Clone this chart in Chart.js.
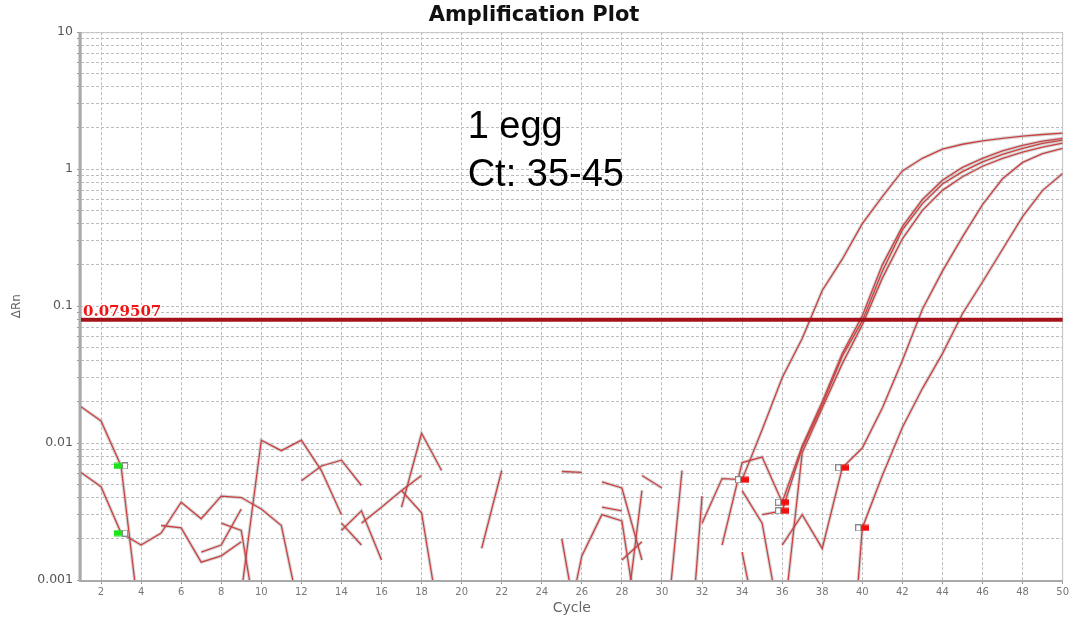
<!DOCTYPE html>
<html>
<head>
<meta charset="utf-8">
<script src="https://cdn.jsdelivr.net/npm/chart.js@4.4.1/dist/chart.umd.min.js"></script>
<style>
  html, body { margin: 0; padding: 0; background: #fff; }
</style>
</head>
<body>
<canvas id="amp" width="1071" height="620"></canvas>
<script>
// cycles on the x axis
const cycles = [1,2,3,4,5,6,7,8,9,10,11,12,13,14,15,16,17,18,19,20,21,22,23,24,25,
                26,27,28,29,30,31,32,33,34,35,36,37,38,39,40,41,42,43,44,45,46,47,48,49,50];

// delta Rn per well (null = negative value, not drawn on log axis)
const well1 = [0.0184,0.0145,0.0068,0.0004,null,null,null,null,0.0008,0.0105,
               0.0088,0.0105,0.0063,0.0030,null,null,0.0034,0.0118,0.0063,null,
               null,null,null,null,0.0062,0.0061,null,0.0014,0.0019,null,
               null,0.0026,0.0055,0.0054,0.0125,0.030,0.058,0.13,0.22,0.40,
               0.63,0.97,1.2,1.4,1.52,1.61,1.68,1.74,1.79,1.83];
const well2 = [0.0061,0.0048,0.0022,0.0018,0.0022,0.0037,0.0028,0.0041,0.0040,0.0033,
               0.0025,0.0005,null,0.0023,0.0032,0.0014,null,null,null,null,
               0.0017,0.0063,null,null,null,null,0.0052,0.0047,0.0014,null,
               null,null,0.0018,0.0072,0.0079,0.0037,0.0095,0.020,0.045,0.085,
               0.20,0.38,0.60,0.83,1.03,1.2,1.36,1.49,1.6,1.68];
const well3 = [null,null,null,null,0.0025,0.0024,0.00135,0.0015,0.0019,null,
               null,0.0053,0.0068,0.0075,0.0049,null,null,null,null,null,
               null,null,null,null,0.0020,0.0003,null,null,0.0058,0.0047,
               null,null,null,null,0.0030,0.0032,0.0092,0.019,0.043,0.078,
               0.18,0.36,0.56,0.78,0.96,1.13,1.28,1.42,1.54,1.63];
const well4 = [null,null,null,null,null,null,0.0016,0.0018,0.0033,null,
               null,null,null,0.0026,0.0018,null,null,null,null,null,
               null,null,null,null,0.0003,0.0015,0.0030,0.0027,0.0003,null,
               null,null,null,0.0045,0.0026,0.0004,0.0085,0.018,0.038,0.073,
               0.16,0.31,0.50,0.70,0.88,1.05,1.2,1.33,1.45,1.55];
const well5 = [null,null,null,null,null,null,null,0.0026,0.0023,0.0003,
               null,null,null,null,0.0026,0.0034,0.0045,0.0058,null,null,
               null,null,null,null,null,null,0.0034,0.0032,null,0.0002,
               0.0063,null,null,null,null,0.0018,0.0030,0.0017,0.0066,0.0092,
               0.018,0.040,0.095,0.18,0.32,0.55,0.85,1.12,1.3,1.42];
const well6 = [null,null,null,null,null,null,null,null,null,null,
               null,null,null,null,null,null,0.0045,0.0031,0.0004,null,
               null,null,null,null,null,null,null,0.0003,0.0045,null,
               0.00005,0.0041,null,0.0016,0.0003,null,null,null,0.00003,0.0024,
               0.0058,0.013,0.025,0.045,0.088,0.15,0.26,0.45,0.70,0.93];
const wells = [well1, well2, well3, well4, well5, well6];

// baseline start / end cycles per well (null = no marker shown)
const baselineStart = [3, 3, null, null, null, null];
const baselineEnd = [34, 36, 36, null, 39, 40];

const threshold = 0.079507;
const thresholdLabel = '0.079507';

const xTicks = [2,4,6,8,10,12,14,16,18,20,22,24,26,28,30,32,34,36,38,40,42,44,46,48,50];
const yTicks = [0.001,0.002,0.003,0.004,0.005,0.006,0.007,0.008,0.009,
                0.01,0.02,0.03,0.04,0.05,0.06,0.07,0.08,0.09,
                0.1,0.2,0.3,0.4,0.5,0.6,0.7,0.8,0.9,
                1,2,3,4,5,6,7,8,9,10];
const yLabels = ['0.001', '0.01', '0.1', '1', '10'];

const noteLines = ['1 egg', 'Ct: 35-45'];
const noteAt = { x: 20.3, y: 1.7 };

Chart.defaults.font.family = '"DejaVu Sans", Verdana, sans-serif';

function markerImage(fill, fillFirst) {
    const c = document.createElement('canvas');
    c.width = 14; c.height = 7;
    const g = c.getContext('2d');
    const drawWhite = (x0, w) => {
        g.fillStyle = '#fff'; g.fillRect(x0, 0.5, w, 6);
        g.strokeStyle = '#888'; g.lineWidth = 1; g.strokeRect(x0 + 0.5, 0.5, w - 1, 6);
    };
    g.fillStyle = fill;
    if (fillFirst) { g.fillRect(0, 0.5, 8, 6); drawWhite(8, 6); }
    else { drawWhite(0, 6); g.fillStyle = fill; g.fillRect(6, 0.5, 8, 6); }
    return c;
}
const greenMark = markerImage('#19e619', true);
const redMark = markerImage('#f01010', false);

const datasets = [];
wells.forEach((w, i) => {
    const pts = w.map((v, k) => ({ x: cycles[k], y: v }));
    datasets.push({ data: pts, borderColor: 'rgba(165,165,165,0.45)', borderWidth: 3.4, order: 2 });
    datasets.push({ data: pts, borderColor: '#cc4242', borderWidth: 1.3, order: 1 });
});
const startPts = [], endPts = [];
wells.forEach((w, i) => {
    if (baselineStart[i] !== null) startPts.push({ x: baselineStart[i], y: w[cycles.indexOf(baselineStart[i])] });
    if (baselineEnd[i] !== null) endPts.push({ x: baselineEnd[i], y: w[cycles.indexOf(baselineEnd[i])] });
});
datasets.push({ data: startPts, showLine: false, pointStyle: greenMark, pointRadius: 5, order: 0 });
datasets.push({ data: endPts, showLine: false, pointStyle: redMark, pointRadius: 5, order: 0 });

const overlay = {
    id: 'overlay',
    beforeDatasetsDraw(chart) {
        const { ctx, chartArea: a } = chart;
        ctx.save();
        ctx.strokeStyle = '#c6c6c6'; ctx.lineWidth = 1;
        ctx.strokeRect(a.left, a.top + 0.5, a.width, a.height);
        ctx.strokeStyle = '#a9a9a9'; ctx.lineWidth = 3;
        ctx.beginPath(); ctx.moveTo(a.left - 1, a.top); ctx.lineTo(a.left - 1, a.bottom + 1); ctx.stroke();
        ctx.lineWidth = 2;
        ctx.beginPath(); ctx.moveTo(a.left - 2, a.bottom + 1); ctx.lineTo(a.right, a.bottom + 1); ctx.stroke();
        ctx.restore();
    },
    afterDatasetsDraw(chart) {
        const { ctx, chartArea: a, scales: { x, y } } = chart;
        const ty = y.getPixelForValue(threshold);
        ctx.save();
        ctx.strokeStyle = '#a4121a'; ctx.lineWidth = 4;
        ctx.beginPath(); ctx.moveTo(a.left, ty); ctx.lineTo(a.right, ty); ctx.stroke();

        ctx.font = 'bold 15px "DejaVu Serif"';
        ctx.textBaseline = 'alphabetic';
        ctx.lineWidth = 3; ctx.strokeStyle = '#fff'; ctx.lineJoin = 'round';
        ctx.strokeText(thresholdLabel, a.left + 2, ty - 4);
        ctx.fillStyle = '#f21414';
        ctx.fillText(thresholdLabel, a.left + 2, ty - 4);

        // sample note
        ctx.font = '38px "Liberation Sans"';
        ctx.fillStyle = '#000';
        const nx = x.getPixelForValue(noteAt.x), ny = y.getPixelForValue(noteAt.y);
        noteLines.forEach((t, i) => ctx.fillText(t, nx, ny + i * 48));
        ctx.restore();
    }
};

const gridStyle = {
    color: '#bdbdbd', lineWidth: 1, drawTicks: true, tickLength: 4,
    tickColor: '#999', tickBorderDash: []
};

new Chart(document.getElementById('amp'), {
    type: 'line',
    data: { datasets: datasets },
    options: {
        responsive: false,
        animation: false,
        layout: { padding: { left: 0, right: 3, top: 0, bottom: 0 } },
        elements: { point: { radius: 0 }, line: { tension: 0 } },
        plugins: {
            legend: { display: false },
            tooltip: { enabled: false },
            title: {
                display: true,
                text: 'Amplification Plot',
                color: '#111',
                font: { size: 21, weight: 'bold' },
                padding: { top: 3, bottom: 4 }
            }
        },
        scales: {
            x: {
                type: 'linear', min: 1, max: 50,
                afterBuildTicks: s => { s.ticks = xTicks.map(v => ({ value: v })); },
                afterFit: s => { s.height = 40; },
                ticks: { font: { size: 10 }, color: '#777', padding: 2, autoSkip: false, maxRotation: 0 },
                grid: gridStyle,
                border: { display: false, dash: [3, 2] },
                title: { display: true, text: 'Cycle', color: '#666', font: { size: 14 }, padding: { top: 0, bottom: 3 } }
            },
            y: {
                type: 'logarithmic', min: 0.001, max: 10,
                afterBuildTicks: s => { s.ticks = yTicks.map(v => ({ value: v })); },
                afterFit: s => { s.width = 81; },
                ticks: {
                    font: { size: 12.5 }, color: '#555', padding: 4, autoSkip: false,
                    callback: v => {
                        const lbl = yLabels.find(t => Math.abs(Number(t) - v) < v * 1e-6);
                        return lbl === undefined ? '' : lbl;
                    }
                },
                grid: gridStyle,
                border: { display: false, dash: [3, 2] },
                title: { display: true, text: 'ΔRn', color: '#666', font: { size: 12 }, padding: { top: 10, bottom: 0 } }
            }
        }
    },
    plugins: [overlay]
});
</script>
</body>
</html>
